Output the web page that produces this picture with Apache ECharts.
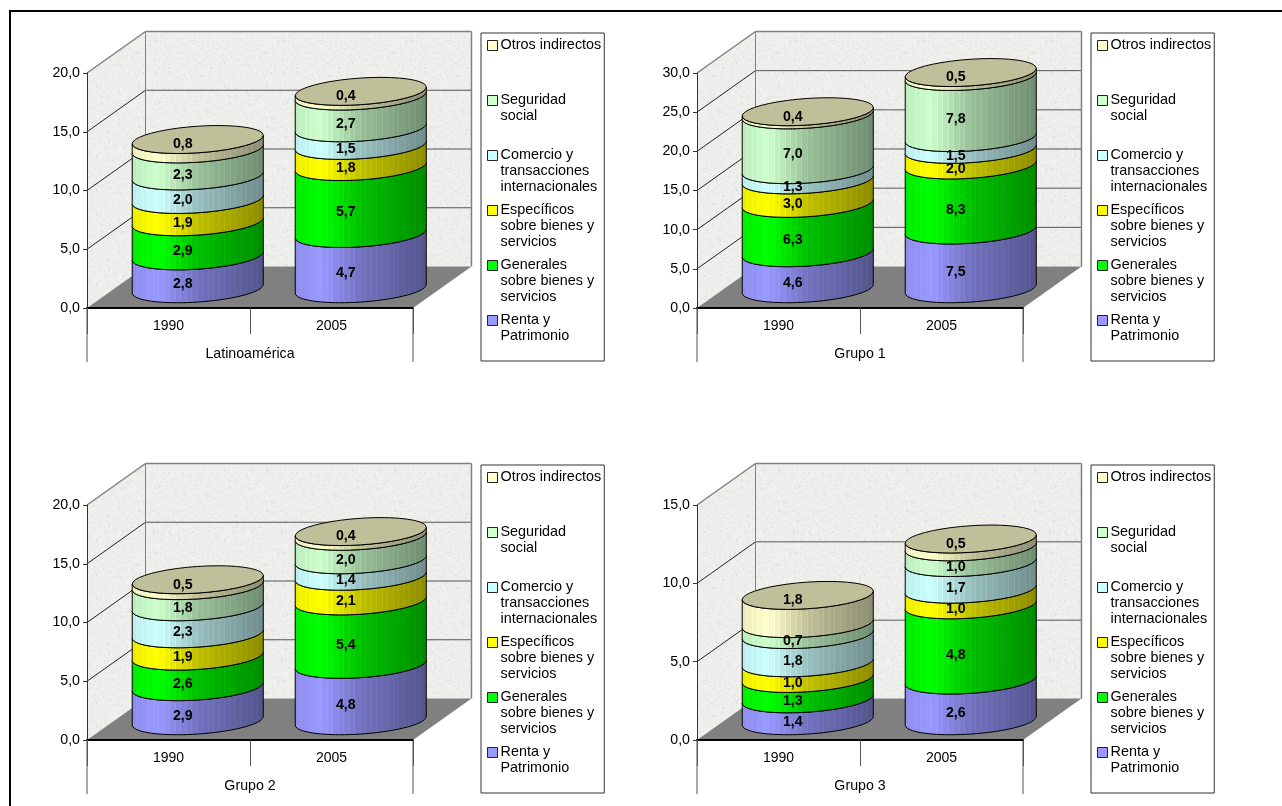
<!DOCTYPE html>
<html lang="es">
<head>
    <meta charset="UTF-8">
    <title>Ingresos tributarios</title>
    <script src="https://cdn.jsdelivr.net/npm/echarts@6/dist/echarts.min.js"></script>
    <style>
        html, body { margin: 0; padding: 0; background: #fff; }
    </style>
</head>
<body>
    <div id="main" style="width: 1282px;height:806px;"></div>

    <script type="text/javascript">
        // datos de cada panel, en el orden [1990, 2005]
        var years = ['1990', '2005'];
        var panelTitles = ['Latinoamérica', 'Grupo 1', 'Grupo 2', 'Grupo 3'];
        var panelTicks = [
            [0, 5, 10, 15, 20],
            [0, 5, 10, 15, 20, 25, 30],
            [0, 5, 10, 15, 20],
            [0, 5, 10, 15]
        ];
        var renta = [[2.8, 4.7], [4.6, 7.5], [2.9, 4.8], [1.4, 2.6]];
        var generales = [[2.9, 5.7], [6.3, 8.3], [2.6, 5.4], [1.3, 4.8]];
        var especificos = [[1.9, 1.8], [3.0, 2.0], [1.9, 2.1], [1.0, 1.0]];
        var comercio = [[2.0, 1.5], [1.3, 1.5], [2.3, 1.4], [1.8, 1.7]];
        var seguridad = [[2.3, 2.7], [7.0, 7.8], [1.8, 2.0], [0.7, 1.0]];
        var otros = [[0.8, 0.4], [0.4, 0.5], [0.5, 0.4], [1.8, 0.5]];

        var seriesNames = ['Renta y Patrimonio', 'Generales sobre bienes y servicios', 'Específicos sobre bienes y servicios',
            'Comercio y transacciones internacionales', 'Seguridad social', 'Otros indirectos'];
        var seriesValues = [renta, generales, especificos, comercio, seguridad, otros];
        var seriesColors = ['#9999ff', '#00ff00', '#ffff00', '#ccffff', '#ccffcc', '#ffffcc'];
        var legendLines = {
            'Renta y Patrimonio': ['Renta y', 'Patrimonio'],
            'Generales sobre bienes y servicios': ['Generales', 'sobre bienes y', 'servicios'],
            'Específicos sobre bienes y servicios': ['Específicos', 'sobre bienes y', 'servicios'],
            'Comercio y transacciones internacionales': ['Comercio y', 'transacciones', 'internacionales'],
            'Seguridad social': ['Seguridad', 'social'],
            'Otros indirectos': ['Otros indirectos']
        };

        // disposición
        var font = '"Liberation Sans", Arial, sans-serif';
        var panelLeft = [87, 697, 87, 697];
        var panelTop = [73, 73, 505, 505];
        var plotW = 326, plotH = 235;
        var depthX = 58.5, depthY = 41.5;

        function shade(hex, f) {
            var n = parseInt(hex.slice(1), 16);
            var r = Math.min(255, Math.round((n >> 16) * f));
            var g = Math.min(255, Math.round(((n >> 8) & 255) * f));
            var b = Math.min(255, Math.round((n & 255) * f));
            return 'rgb(' + r + ',' + g + ',' + b + ')';
        }

        // degradado de la cara del cilindro, con sus franjas verticales
        function sideGradient(hex) {
            var stops = [];
            var n = 24;
            for (var i = 0; i < n; i++) {
                var u = (i + 0.5) / n;
                var f;
                if (u < 0.2) {
                    f = 0.92 + 0.08 * u / 0.2;
                } else if (u < 0.5) {
                    f = 1 - 0.25 * (u - 0.2) / 0.3;
                } else {
                    f = 0.75 - 0.2 * (u - 0.5) / 0.5;
                }
                var c = shade(hex, f);
                var light = shade(hex, f * 1.03 + 0.01);
                stops.push({ offset: i / n, color: c });
                stops.push({ offset: (i + 0.8) / n, color: c });
                stops.push({ offset: (i + 0.8) / n, color: light });
                stops.push({ offset: (i + 1) / n, color: light });
            }
            return { type: 'linear', x: 0, y: 0, x2: 1, y2: 0, colorStops: stops };
        }

        // textura granulada de las paredes
        function wallTexture() {
            var cv = document.createElement('canvas');
            cv.width = 128;
            cv.height = 128;
            var ctx = cv.getContext('2d');
            ctx.fillStyle = '#eeeeeb';
            ctx.fillRect(0, 0, 128, 128);
            var seed = 7;
            function next() {
                seed = (seed * 1103515245 + 12345) % 2147483648;
                return seed / 2147483648;
            }
            for (var i = 0; i < 2600; i++) {
                var v = next() > 0.5 ? 255 : 205;
                ctx.fillStyle = 'rgba(' + v + ',' + v + ',' + v + ',0.2)';
                ctx.fillRect(Math.floor(next() * 128), Math.floor(next() * 128), 1 + Math.floor(next() * 2), 1 + Math.floor(next() * 2));
            }
            return cv;
        }
        var wallPattern = { image: wallTexture(), repeat: 'repeat' };

        function line(x1, y1, x2, y2, color, width) {
            return {
                type: 'line',
                shape: { x1: x1, y1: y1, x2: x2, y2: y2 },
                style: { stroke: color, lineWidth: width || 1 }
            };
        }

        // paredes, suelo y líneas de división de la caja 3D
        function frameRenderer(ticks) {
            return function (params, api) {
                var cs = params.coordSys;
                var x0 = cs.x, x1 = cs.x + cs.width;
                var yBottom = cs.y + cs.height, yTop = cs.y;
                var children = [
                    {
                        type: 'polygon',
                        shape: { points: [[x0, yBottom], [x0, yTop], [x0 + depthX, yTop - depthY], [x0 + depthX, yBottom - depthY]] },
                        style: { fill: wallPattern }
                    },
                    {
                        type: 'polygon',
                        shape: { points: [[x0 + depthX, yBottom - depthY], [x0 + depthX, yTop - depthY], [x1 + depthX, yTop - depthY], [x1 + depthX, yBottom - depthY]] },
                        style: { fill: wallPattern }
                    },
                    {
                        type: 'polygon',
                        shape: { points: [[x0, yBottom], [x1, yBottom], [x1 + depthX, yBottom - depthY], [x0 + depthX, yBottom - depthY]] },
                        style: { fill: '#808080' }
                    }
                ];
                for (var i = 1; i < ticks.length - 1; i++) {
                    var y = api.coord([0, ticks[i]])[1];
                    children.push(line(x0, y, x0 + depthX, y - depthY, '#222'));
                    children.push(line(x0 + depthX, y - depthY, x1 + depthX, y - depthY, '#555'));
                }
                children.push(line(x0, yTop, x0 + depthX, yTop - depthY, '#808080', 1.5));
                children.push(line(x0 + depthX, yTop - depthY, x1 + depthX, yTop - depthY, '#808080', 1.5));
                children.push(line(x0 + depthX, yTop - depthY, x0 + depthX, yBottom - depthY, '#808080'));
                children.push(line(x1 + depthX, yTop - depthY, x1 + depthX, yBottom - depthY, '#808080', 1.5));
                // prolongación de los bordes bajo el eje de categorías
                children.push(line(x0, yBottom, x0, yBottom + 54, '#555'));
                children.push(line(x1, yBottom, x1, yBottom + 54, '#555'));
                return { type: 'group', children: children };
            };
        }

        function arc(cx, cy, a, from, to) {
            var pts = [];
            var steps = 40;
            for (var i = 0; i <= steps; i++) {
                var t = from + (to - from) * i / steps;
                pts.push([cx + a * Math.cos(t), cy + 13.3 * Math.sin(t) - 4.3 * Math.cos(t)]);
            }
            return pts;
        }

        // un tramo del cilindro; el último tramo lleva además la tapa
        function cylinderRenderer(color, isTop) {
            var fill = sideGradient(color);
            return function (params, api) {
                var base = api.coord([api.value(0), api.value(1)]);
                var top = api.coord([api.value(0), api.value(2)]);
                var a = api.size([1, 0])[0] * 0.402;
                var cx = base[0] + depthX / 2;
                var yShift = depthY / 2 - 1.5;
                var cyBase = base[1] - yShift;
                var cyTop = top[1] - yShift;
                var side = arc(cx, cyTop, a, 0, Math.PI).concat(arc(cx, cyBase, a, Math.PI, 0));
                var children = [{
                    type: 'polygon',
                    shape: { points: side },
                    style: { fill: fill, stroke: '#000', lineWidth: 1 }
                }];
                var labelY = (base[1] + top[1]) / 2 - 7;
                if (isTop) {
                    children.push({
                        type: 'polygon',
                        shape: { points: arc(cx, cyTop, a, 0, Math.PI * 2) },
                        style: { fill: shade(color, 0.75), stroke: '#000', lineWidth: 1 }
                    });
                    labelY = cyTop + 5;
                }
                children.push({
                    type: 'text',
                    z2: 100,
                    style: {
                        text: api.value(3).toFixed(1).replace('.', ','),
                        x: cx - 15,
                        y: labelY,
                        align: 'center',
                        verticalAlign: 'middle',
                        font: 'bold 14.2px ' + font,
                        fill: '#000'
                    }
                });
                return { type: 'group', children: children };
            };
        }

        var grids = [], xAxes = [], yAxes = [], legends = [], series = [];
        // el icono reserva las tres líneas del texto y dibuja el cuadro en la primera
        var legendIcon = 'path://M0 3L10 3L10 13L0 13Z M0 0L0 0 M10 48L10 48';

        panelTitles.forEach(function (title, p) {
            var ticks = panelTicks[p];
            grids.push({ left: panelLeft[p], top: panelTop[p], width: plotW, height: plotH });
            xAxes.push({
                gridIndex: p,
                type: 'category',
                data: years,
                z: 3,
                name: title,
                nameLocation: 'middle',
                nameGap: 39,
                nameTextStyle: { fontFamily: font, fontSize: 14.2, color: '#000' },
                axisLine: { onZero: false, lineStyle: { color: '#000', width: 2 } },
                axisTick: { show: true, length: 26, lineStyle: { color: '#555' } },
                axisLabel: { margin: 11, fontFamily: font, fontSize: 14, color: '#000' },
                splitLine: { show: false }
            });
            yAxes.push({
                gridIndex: p,
                type: 'value',
                min: ticks[0],
                max: ticks[ticks.length - 1],
                interval: 5,
                z: 3,
                axisLine: { show: true, lineStyle: { color: '#333' } },
                axisTick: { show: true, length: 4, lineStyle: { color: '#333' } },
                axisLabel: {
                    margin: 7,
                    fontFamily: font,
                    fontSize: 14.2,
                    color: '#000',
                    padding: [2, 0, 0, 0],
                    formatter: function (v) { return v.toFixed(1).replace('.', ','); }
                },
                splitLine: { show: false }
            });
            legends.push({
                left: panelLeft[p] + 394,
                top: panelTop[p] - 40,
                orient: 'vertical',
                selectedMode: false,
                padding: [4, 3, 0, 6],
                itemGap: 6,
                itemWidth: 10,
                itemHeight: 48,
                icon: legendIcon,
                backgroundColor: '#fff',
                borderColor: '#333',
                borderWidth: 1,
                itemStyle: { borderColor: '#222', borderWidth: 1 },
                textStyle: { fontFamily: font, fontSize: 14.4, lineHeight: 16, color: '#000', padding: [0, 0, 0, -2] },
                data: seriesNames.slice().reverse(),
                formatter: function (name) {
                    var rows = legendLines[name].slice();
                    while (rows.length < 3) { rows.push(' '); }
                    return rows.join('\n');
                }
            });
            series.push({
                type: 'custom',
                name: 'frame' + p,
                xAxisIndex: p,
                yAxisIndex: p,
                z: 1,
                silent: true,
                renderItem: frameRenderer(ticks),
                data: [[0, 0]]
            });
            var running = [0, 0];
            seriesNames.forEach(function (name, s) {
                var rows = seriesValues[s][p].map(function (v, c) {
                    var row = [c, running[c], running[c] + v, v];
                    running[c] += v;
                    return row;
                });
                series.push({
                    type: 'custom',
                    name: name,
                    xAxisIndex: p,
                    yAxisIndex: p,
                    z: 2,
                    itemStyle: { color: seriesColors[s] },
                    encode: { x: 0, y: [1, 2] },
                    renderItem: cylinderRenderer(seriesColors[s], s === seriesNames.length - 1),
                    data: rows
                });
            });
        });

        var myChart = echarts.init(document.getElementById('main'));
        myChart.setOption({
            animation: false,
            backgroundColor: '#fff',
            graphic: [
                { type: 'rect', shape: { x: 9, y: 10, width: 1273, height: 2 }, style: { fill: '#000' }, silent: true },
                { type: 'rect', shape: { x: 9, y: 10, width: 2, height: 796 }, style: { fill: '#000' }, silent: true }
            ],
            grid: grids,
            xAxis: xAxes,
            yAxis: yAxes,
            legend: legends,
            series: series
        });
    </script>
</body>
</html>
